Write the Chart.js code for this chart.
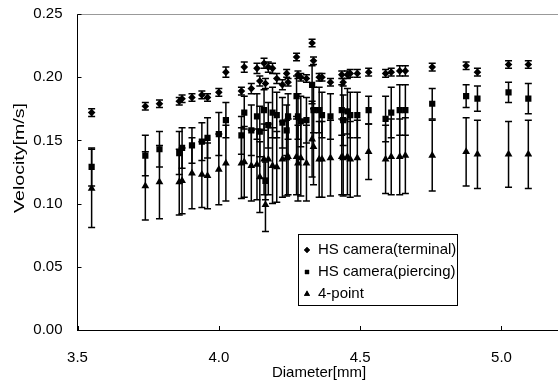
<!DOCTYPE html>
<html>
<head>
<meta charset="utf-8">
<script src="https://cdn.jsdelivr.net/npm/chart.js@4.4.1/dist/chart.umd.min.js"></script>
<style>
  html, body { margin: 0; padding: 0; background: #fff; }
  #wrap { width: 558px; height: 383px; }
</style>
</head>
<body>
<div id="wrap"><canvas id="scatterChart" width="558" height="383"></canvas></div>
<script>
// diameters [mm]
var diameter = [3.55, 3.74, 3.79, 3.86, 3.87, 3.905, 3.94, 3.96, 4.00, 4.025, 4.08, 4.09, 4.115, 4.135, 4.145, 4.16,
  4.165, 4.175, 4.19, 4.205, 4.225, 4.24, 4.245, 4.275, 4.28, 4.29, 4.31, 4.33, 4.335, 4.355, 4.365, 4.395,
  4.435, 4.44, 4.455, 4.465, 4.49, 4.53, 4.59, 4.61, 4.64, 4.66, 4.755, 4.875, 4.915, 5.025, 5.095];

// HS camera (terminal)
var terminal = [0.172, 0.177, 0.179, 0.181, 0.183, 0.184, 0.186, 0.184, 0.188, 0.204, 0.189, 0.208, 0.191, 0.207, 0.197, 0.211,
  0.195, 0.208, 0.207, 0.199, 0.194, 0.203, 0.196, 0.216, 0.202, 0.200, 0.199, 0.227, 0.213, 0.200, 0.200, 0.196,
  0.202, 0.196, 0.202, 0.203, 0.203, 0.204, 0.203, 0.204, 0.205, 0.205, 0.208, 0.209, 0.204, 0.210, 0.210];
var terminalErr = [0.003, 0.003, 0.003, 0.003, 0.003, 0.003, 0.003, 0.003, 0.003, 0.004, 0.003, 0.004, 0.004, 0.004, 0.004, 0.004,
  0.004, 0.004, 0.004, 0.004, 0.004, 0.003, 0.003, 0.003, 0.003, 0.003, 0.003, 0.003, 0.003, 0.003, 0.003, 0.003,
  0.003, 0.003, 0.003, 0.003, 0.003, 0.003, 0.003, 0.003, 0.004, 0.004, 0.003, 0.003, 0.003, 0.003, 0.003];

// HS camera (piercing)
var piercing = [0.129, 0.138, 0.143, 0.140, 0.144, 0.146, 0.149, 0.152, 0.155, 0.166, 0.154, 0.172, 0.158, 0.169, 0.157, 0.174,
  0.118, 0.162, 0.172, 0.170, 0.164, 0.158, 0.169, 0.185, 0.169, 0.165, 0.166, 0.194, 0.174, 0.174, 0.170, 0.169,
  0.174, 0.166, 0.173, 0.170, 0.170, 0.174, 0.167, 0.172, 0.174, 0.174, 0.179, 0.185, 0.183, 0.188, 0.183];
var piercingErr = [0.015, 0.016, 0.014, 0.017, 0.016, 0.014, 0.015, 0.016, 0.017, 0.014, 0.015, 0.013, 0.020, 0.018, 0.020, 0.016,
  0.015, 0.018, 0.020, 0.018, 0.020, 0.020, 0.018, 0.016, 0.018, 0.020, 0.018, 0.015, 0.018, 0.018, 0.018, 0.018,
  0.020, 0.020, 0.018, 0.018, 0.018, 0.011, 0.018, 0.020, 0.020, 0.020, 0.012, 0.009, 0.010, 0.008, 0.012];

// 4-point
var fourPoint = [0.112, 0.114, 0.117, 0.117, 0.118, 0.124, 0.123, 0.122, 0.127, 0.132, 0.132, 0.133, 0.130, 0.131, 0.121, 0.135,
  0.099, 0.135, 0.130, 0.129, 0.135, 0.136, 0.137, 0.137, 0.132, 0.136, 0.132, 0.151, 0.145, 0.135, 0.135, 0.136,
  0.137, 0.136, 0.137, 0.135, 0.136, 0.141, 0.135, 0.137, 0.137, 0.138, 0.138, 0.141, 0.139, 0.139, 0.139];
var fourPointErr = [0.031, 0.027, 0.029, 0.026, 0.026, 0.028, 0.026, 0.026, 0.028, 0.030, 0.028, 0.028, 0.028, 0.028, 0.028, 0.028,
  0.021, 0.028, 0.030, 0.028, 0.030, 0.030, 0.030, 0.030, 0.030, 0.030, 0.030, 0.030, 0.030, 0.030, 0.030, 0.030,
  0.030, 0.030, 0.030, 0.030, 0.030, 0.022, 0.027, 0.030, 0.030, 0.030, 0.028, 0.027, 0.027, 0.026, 0.027];

var xTicks = [3.5, 4.0, 4.5, 5.0];
var yTicks = [0.00, 0.05, 0.10, 0.15, 0.20, 0.25];

var seriesNames = ["HS camera(terminal)", "HS camera(piercing)", "4-point"];
var FONT = "'Liberation Sans', Arial, sans-serif";

function pts(ys) {
  return diameter.map(function (d, i) { return { x: d, y: ys[i] }; });
}

// error bars, drawn with the scales
const errorBars = {
  id: "errorBars",
  afterDatasetsDraw(chart) {
    const ctx = chart.ctx;
    const x = chart.scales.x, y = chart.scales.y;
    ctx.save();
    ctx.strokeStyle = "#000";
    ctx.lineWidth = 1.5;
    chart.data.datasets.forEach(function (ds) {
      ds.data.forEach(function (p, j) {
        var e = ds.errors[j];
        var px = x.getPixelForValue(p.x);
        var top = y.getPixelForValue(p.y + e);
        var bot = y.getPixelForValue(p.y - e);
        ctx.beginPath();
        ctx.moveTo(px, top); ctx.lineTo(px, bot);
        ctx.moveTo(px - 3.5, top); ctx.lineTo(px + 3.5, top);
        ctx.moveTo(px - 3.5, bot); ctx.lineTo(px + 3.5, bot);
        ctx.stroke();
      });
    });
    ctx.restore();
  }
};

// inner tick marks, grey top line, axis titles, legend box
const frame = {
  id: "frame",
  afterDraw(chart) {
    const ctx = chart.ctx;
    const a = chart.chartArea;
    const x = chart.scales.x, y = chart.scales.y;
    ctx.save();

    ctx.strokeStyle = "#999";
    ctx.lineWidth = 1;
    ctx.beginPath();
    ctx.moveTo(a.left, Math.round(a.top) + 0.5);
    ctx.lineTo(a.right, Math.round(a.top) + 0.5);
    ctx.stroke();

    ctx.strokeStyle = "#000";
    ctx.beginPath();
    yTicks.forEach(function (v) {
      var py = Math.round(y.getPixelForValue(v)) + 0.5;
      ctx.moveTo(a.left, py); ctx.lineTo(a.left + 4, py);
    });
    xTicks.forEach(function (v) {
      var px = Math.round(x.getPixelForValue(v)) + 0.5;
      ctx.moveTo(px, a.bottom); ctx.lineTo(px, a.bottom - 4);
    });
    ctx.stroke();

    ctx.fillStyle = "#000";
    ctx.font = "15px " + FONT;
    ctx.textAlign = "center";
    ctx.textBaseline = "middle";
    ctx.fillText("Diameter[mm]", 319, 373);

    ctx.save();
    ctx.translate(20, 158);
    ctx.rotate(-Math.PI / 2);
    var w = ctx.measureText("Velocity[m/s]").width;
    ctx.scale(110 / w, 1);
    ctx.fillText("Velocity[m/s]", 0, 0);
    ctx.restore();

    // legend
    ctx.strokeStyle = "#000";
    ctx.lineWidth = 1;
    ctx.strokeRect(298.5, 234.5, 159, 71);
    ctx.textAlign = "left";
    chart.data.datasets.forEach(function (ds, i) {
      var ly = 250 + i * 22;
      Chart.helpers.drawPoint(ctx, {
        pointStyle: ds.pointStyle, radius: ds.pointStyle === "triangle" ? 3.5 : 3,
        borderWidth: 0, rotation: 0
      }, 307, ly);
      ctx.fill();
      ctx.fillText(seriesNames[i], 318, ly);
    });
    ctx.restore();
  }
};

var ctx = document.getElementById("scatterChart").getContext("2d");
var myChart = new Chart(ctx, {
  type: "scatter",
  data: {
    datasets: [
      {
        label: seriesNames[0],
        data: pts(terminal),
        errors: terminalErr,
        pointStyle: "rectRot",
        pointRadius: 3.8,
        backgroundColor: "#000",
        borderColor: "#000",
        borderWidth: 0,
      },
      {
        label: seriesNames[1],
        data: pts(piercing),
        errors: piercingErr,
        pointStyle: "rect",
        pointRadius: 4.4,
        backgroundColor: "#000",
        borderColor: "#000",
        borderWidth: 0,
      },
      {
        label: seriesNames[2],
        data: pts(fourPoint),
        errors: fourPointErr,
        pointStyle: "triangle",
        pointRadius: 4.5,
        backgroundColor: "#000",
        borderColor: "#000",
        borderWidth: 0,
      },
    ],
  },
  options: {
    responsive: false,
    animation: false,
    devicePixelRatio: 1,
    layout: { autoPadding: false, padding: { top: 14, right: 0, left: 0, bottom: 0 } },
    scales: {
      x: {
        type: "linear",
        min: 3.5,
        max: 5.2,
        afterFit: function (s) { s.height = 53; s.paddingLeft = 0; s.paddingRight = 0; },
        grid: { display: false, drawTicks: false },
        border: { color: "#000", width: 1 },
        ticks: {
          stepSize: 0.5,
          includeBounds: false,
          padding: 19,
          color: "#000",
          font: { family: FONT, size: 15 },
          callback: function (v) { return v.toFixed(1); },
        },
      },
      y: {
        min: 0,
        max: 0.25,
        afterFit: function (s) { s.width = 77.5; s.paddingTop = 0; s.paddingBottom = 0; },
        grid: { display: false, drawTicks: false },
        border: { color: "#000", width: 1 },
        ticks: {
          stepSize: 0.05,
          padding: 15,
          color: "#000",
          font: { family: FONT, size: 15 },
          callback: function (v) { return v.toFixed(2); },
        },
      },
    },
    plugins: {
      legend: { display: false },
      tooltip: { enabled: false },
    },
  },
  plugins: [errorBars, frame],
});
</script>
</body>
</html>
